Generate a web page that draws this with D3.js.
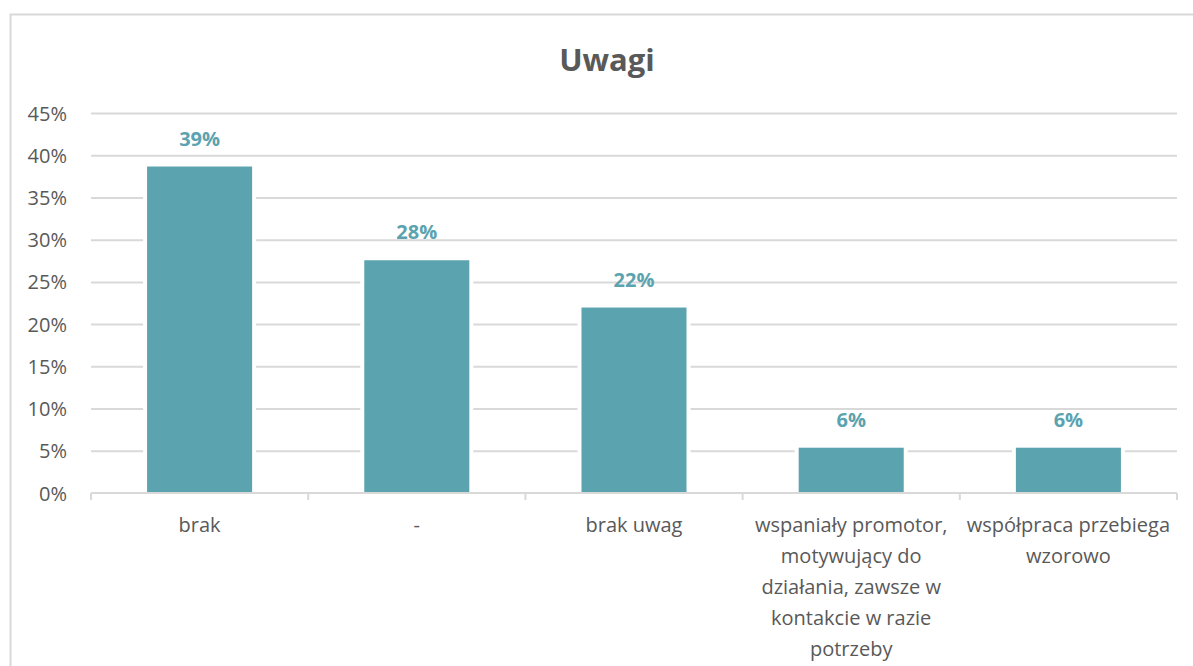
<!DOCTYPE html>
<html>
<head>
<meta charset="utf-8">
<script src="https://cdn.jsdelivr.net/npm/d3@7"></script>
<style>
  body { margin: 0; background: #fff; }
  svg { display: block; font-family: "Open Sans", sans-serif; }
</style>
</head>
<body>
<svg id="chart"></svg>
<script>
const categories = [
  ["brak"],
  ["-"],
  ["brak uwag"],
  ["wspaniały promotor,", "motywujący do", "działania, zawsze w", "kontakcie w razie", "potrzeby"],
  ["współpraca przebiega", "wzorowo"]
];
const values = [0.389, 0.278, 0.222, 0.056, 0.056];
const valueLabels = ["39%", "28%", "22%", "6%", "6%"];
const yTicks = [0, 0.05, 0.1, 0.15, 0.2, 0.25, 0.3, 0.35, 0.4, 0.45];

const width = 1193, height = 666;
const margin = { top: 113, right: 16, bottom: 173, left: 91 };
const barColor = "#5ba3af";
const textColor = "#595959";
const gridColor = "#d9d9d9";

const svg = d3.select("#chart").attr("width", width).attr("height", height);

// chart border
svg.append("rect")
  .attr("x", 10.5).attr("y", 14.5)
  .attr("width", 1200).attr("height", 700)
  .attr("fill", "none").attr("stroke", gridColor).attr("stroke-width", 2);

svg.append("text")
  .attr("x", 607).attr("y", 71)
  .attr("text-anchor", "middle")
  .attr("font-size", 31).attr("font-weight", "bold")
  .attr("fill", textColor)
  .text("Uwagi");

const innerW = width - margin.left - margin.right;
const innerH = height - margin.top - margin.bottom;

const x = d3.scaleBand().domain(d3.range(categories.length)).range([0, innerW]).paddingInner(0.498).paddingOuter(0.249);
const xc = d3.scaleBand().domain(d3.range(categories.length)).range([0, innerW]);
const y = d3.scaleLinear().domain([0, 0.45]).range([innerH, 0]);

const g = svg.append("g").attr("transform", `translate(${margin.left},${margin.top})`);

// gridlines
g.append("g")
  .call(d3.axisLeft(y).tickValues(yTicks.slice(1)).tickSize(-innerW).tickFormat(""))
  .call(s => s.select(".domain").remove())
  .selectAll("line").attr("stroke", gridColor).attr("stroke-width", 2);

// y labels
g.append("g")
  .call(d3.axisLeft(y).tickValues(yTicks).tickSize(0).tickPadding(24).tickFormat(d3.format(".0%")))
  .call(s => s.select(".domain").remove())
  .selectAll("text")
  .attr("font-size", 20).attr("fill", textColor).attr("font-family", "Open Sans, sans-serif")
  .attr("dy", "0.35em");

// x axis line with category ticks
const xAxisG = g.append("g").attr("transform", `translate(0,${innerH})`);
xAxisG.append("line")
  .attr("x1", 0).attr("x2", innerW)
  .attr("stroke", gridColor).attr("stroke-width", 2);
xAxisG.selectAll(".tk")
  .data(d3.range(categories.length + 1))
  .join("line")
  .attr("x1", i => i < categories.length ? xc(i) : innerW)
  .attr("x2", i => i < categories.length ? xc(i) : innerW)
  .attr("y1", 0).attr("y2", 7)
  .attr("stroke", gridColor).attr("stroke-width", 2);

// bars: white outline around a teal fill
g.selectAll(".bar-bg")
  .data(values)
  .join("rect")
  .attr("x", (d, i) => x(i) - 2)
  .attr("y", d => y(d) - 2)
  .attr("width", x.bandwidth() + 4)
  .attr("height", d => innerH - y(d) + 1)
  .attr("fill", "#fff");

g.selectAll(".bar")
  .data(values)
  .join("rect")
  .attr("x", (d, i) => x(i) + 2)
  .attr("y", d => y(d) + 2)
  .attr("width", x.bandwidth() - 4)
  .attr("height", d => innerH - y(d) - 3)
  .attr("fill", barColor);

// value labels
g.selectAll(".val")
  .data(values)
  .join("text")
  .attr("x", (d, i) => x(i) + x.bandwidth() / 2)
  .attr("y", d => y(d) - 19)
  .attr("text-anchor", "middle")
  .attr("font-size", 20).attr("font-weight", "bold")
  .attr("fill", barColor)
  .text((d, i) => valueLabels[i]);

// category labels
const catG = g.selectAll(".cat")
  .data(categories)
  .join("text")
  .attr("x", (d, i) => xc(i) + xc.bandwidth() / 2)
  .attr("y", innerH + 39)
  .attr("text-anchor", "middle")
  .attr("font-size", 20)
  .attr("fill", textColor);
catG.selectAll("tspan")
  .data(d => d)
  .join("tspan")
  .attr("x", function() { return d3.select(this.parentNode).attr("x"); })
  .attr("dy", (d, i) => i === 0 ? 0 : 31)
  .text(d => d);
</script>
</body>
</html>
